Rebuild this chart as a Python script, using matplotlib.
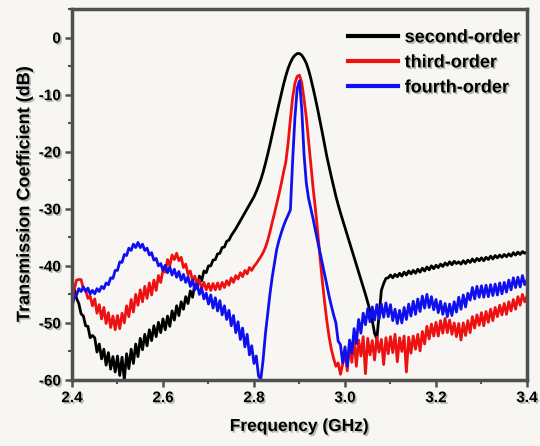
import numpy as np
import matplotlib
matplotlib.use("Agg")
import matplotlib.pyplot as plt
import matplotlib.patheffects as pe
from matplotlib.ticker import MultipleLocator

# Frequency sweep, 2.4 - 3.4 GHz in 5 MHz steps
freq = np.round(np.arange(2.4, 3.4001, 0.005), 3)

# Transmission coefficient (dB), one row per 50 MHz
second_order = [
    -43.0, -44.0, -45.7, -46.6, -48.4, -48.8, -50.5, -50.6, -52.6, -52.2,
    -52.6, -55.1, -53.7, -56.3, -54.6, -57.4, -55.2, -58.1, -55.9, -58.6,
    -55.8, -59.2, -56.0, -60.0, -55.4, -58.0, -54.6, -57.1, -53.7, -55.9,
    -52.7, -54.7, -52.0, -54.0, -51.2, -53.1, -50.5, -52.4, -49.9, -51.7,
    -49.3, -51.2, -48.8, -50.6, -47.9, -49.5, -47.0, -48.7, -46.3, -47.6,
    -45.4, -46.6, -44.4, -45.5, -43.2, -43.9, -41.8, -42.6, -40.9, -41.2,
    -40.0, -40.0, -39.0, -38.9, -37.9, -37.8, -36.8, -36.7, -35.7, -35.5,
    -34.7, -34.1, -33.5, -32.8, -32.1, -31.4, -30.7, -30.0, -29.3, -28.6,
    -27.9, -27.0, -26.0, -24.9, -23.6, -22.1, -20.5, -18.8, -17.0, -15.2,
    -13.4, -11.6, -9.9, -8.2, -6.7, -5.4, -4.4, -3.6, -3.1, -2.8,
    -2.8, -3.1, -3.7, -4.5, -5.7, -7.2, -8.9, -10.7, -12.6, -14.6,
    -16.6, -18.7, -20.8, -22.6, -24.4, -26.1, -27.8, -29.3, -30.7, -32.0,
    -33.3, -34.6, -35.9, -37.2, -38.5, -39.8, -41.1, -42.4, -43.7, -45.0,
    -46.4, -47.9, -49.6, -51.8, -52.8, -48.5, -44.3, -43.1, -42.2, -42.1,
    -41.6, -42.1, -41.5, -41.9, -41.3, -41.8, -41.1, -41.6, -40.9, -41.4,
    -40.8, -41.3, -40.6, -41.1, -40.4, -40.9, -40.2, -40.7, -40.0, -40.5,
    -39.9, -40.3, -39.7, -40.1, -39.5, -39.9, -39.3, -39.8, -39.2, -39.6,
    -39.3, -39.7, -39.1, -39.6, -39.0, -39.4, -38.8, -39.3, -38.7, -39.1,
    -38.6, -39.1, -38.5, -38.9, -38.3, -38.8, -38.2, -38.6, -38.1, -38.5,
    -38.0, -38.4, -37.9, -38.3, -37.7, -38.1, -37.6, -38.0, -37.5, -37.8,
    -37.6,
]

third_order = [
    -46.0, -44.1, -42.5, -42.4, -42.4, -44.0, -44.2, -45.7, -45.3, -47.0,
    -45.8, -48.3, -46.8, -49.3, -47.3, -50.1, -48.2, -50.8, -48.8, -51.2,
    -48.7, -51.0, -48.3, -50.0, -47.0, -48.9, -45.9, -48.1, -45.0, -46.9,
    -44.2, -46.3, -43.6, -45.7, -43.0, -45.1, -42.5, -44.3, -41.7, -42.9,
    -40.7, -41.1, -38.9, -40.0, -38.1, -38.9, -37.8, -39.1, -38.5, -40.3,
    -39.7, -41.5, -40.9, -42.6, -41.8, -43.4, -42.5, -43.9, -42.9, -44.2,
    -43.1, -44.3, -43.1, -44.2, -43.0, -44.1, -42.9, -43.8, -42.6, -43.4,
    -42.1, -42.9, -41.7, -42.3, -41.2, -41.9, -40.8, -41.4, -40.3, -40.8,
    -40.1, -39.6, -39.0, -38.4, -37.7, -36.8, -35.6, -34.1, -32.4, -30.8,
    -29.1, -27.4, -25.6, -23.6, -21.8, -18.5, -14.3, -10.5, -8.0, -6.8,
    -6.6, -7.9, -10.8, -14.0, -18.2, -22.6, -26.4, -30.0, -34.0, -38.4,
    -42.5, -46.2, -49.6, -52.4, -54.6, -56.2, -57.6, -57.0, -59.0, -57.2,
    -55.0, -58.4, -53.6, -56.9, -52.8, -57.6, -53.0, -55.8, -52.4, -58.9,
    -52.7, -55.6, -53.1, -56.5, -52.5, -55.1, -52.9, -57.3, -52.6, -55.4,
    -52.4, -55.2, -52.0, -56.8, -52.6, -55.0, -52.3, -58.6, -52.5, -55.3,
    -52.3, -54.6, -52.0, -54.9, -51.5, -53.7, -50.6, -52.8, -50.2, -52.3,
    -49.9, -52.3, -49.6, -51.8, -49.2, -51.7, -49.5, -52.0, -50.0, -52.4,
    -50.1, -53.0, -50.0, -52.2, -49.6, -51.7, -48.9, -50.9, -48.6, -50.4,
    -48.2, -50.5, -48.0, -49.9, -47.6, -49.6, -47.3, -48.9, -46.9, -48.6,
    -46.6, -48.5, -46.3, -47.9, -45.9, -47.6, -45.4, -46.9, -45.0, -46.3,
    -45.3,
]

fourth_order = [
    -47.2, -45.5, -45.1, -44.0, -44.5, -43.7, -44.5, -43.9, -44.9, -44.3,
    -44.9, -44.0, -44.5, -43.6, -44.0, -43.0, -43.3, -42.1, -42.2, -40.8,
    -40.8, -39.3, -39.4, -38.0, -38.2, -36.9, -37.3, -36.2, -36.8, -35.9,
    -36.8, -36.2, -37.3, -36.9, -38.1, -37.7, -39.0, -38.7, -40.0, -39.6,
    -40.8, -39.9, -41.2, -40.2, -41.6, -40.6, -42.0, -41.0, -42.5, -41.5,
    -42.9, -41.9, -43.6, -42.5, -44.2, -43.2, -45.0, -43.9, -45.8, -44.8,
    -46.7, -45.1, -47.4, -45.6, -47.9, -46.1, -48.6, -47.0, -49.4, -47.8,
    -50.5, -48.7, -51.7, -49.8, -52.9, -50.9, -54.2, -52.0, -55.6, -54.0,
    -57.1, -55.8, -59.3, -59.9, -56.5, -52.0, -48.5, -45.0, -42.0, -39.6,
    -37.1, -35.5, -34.2, -33.0, -32.0, -31.1, -30.2, -21.5, -14.0, -8.9,
    -7.6, -12.5, -20.5, -25.5, -28.2, -30.0, -31.8, -33.8, -35.7, -37.6,
    -39.5, -41.4, -43.3, -45.3, -47.0, -48.6, -50.0, -53.2, -53.8, -57.0,
    -54.2, -57.6, -53.0, -55.3, -51.0, -53.6, -49.4, -51.8, -48.3, -50.3,
    -47.5, -49.8, -47.2, -49.5, -46.8, -49.3, -46.7, -49.0, -46.5, -48.9,
    -46.8, -49.6, -47.6, -50.1, -47.8, -50.0, -47.3, -49.4, -46.7, -48.8,
    -46.2, -48.5, -45.8, -48.0, -45.3, -47.4, -45.0, -47.3, -45.4, -47.7,
    -45.9, -48.2, -46.2, -48.5, -46.6, -48.9, -46.7, -48.7, -46.3, -48.1,
    -45.5, -47.6, -45.1, -47.2, -44.8, -46.0, -43.8, -45.8, -43.6, -45.5,
    -43.5, -45.5, -43.4, -45.4, -43.3, -45.2, -43.2, -45.1, -43.0, -44.9,
    -42.9, -44.6, -42.5, -44.2, -42.1, -43.8, -42.0, -43.7, -41.7, -43.3,
    -42.5,
]

series_names = ["second-order", "third-order", "fourth-order"]
series_colors = ["#000000", "#ee1111", "#1010ee"]

bg = "#f7f6f2"
plt.rcParams["font.family"] = ["Liberation Sans", "DejaVu Sans"]
plt.rcParams["font.weight"] = "bold"

fig = plt.figure(figsize=(5.4, 4.46), dpi=100, facecolor=bg)
ax = fig.add_axes([0.1333, 0.148, 0.8426, 0.8318], facecolor=bg)

shadow = [pe.SimplePatchShadow(offset=(1.2, -1.2), shadow_rgbFace="#888888", alpha=0.6),
          pe.Normal()]

for vals, name, col in zip([second_order, third_order, fourth_order], series_names, series_colors):
    ax.plot(freq, vals, color=col, lw=2.0, label=name)

ax.set_xlim(2.4, 3.4)
ax.set_ylim(-60, 5)
ax.xaxis.set_major_locator(MultipleLocator(0.2))
ax.xaxis.set_minor_locator(MultipleLocator(0.1))
ax.yaxis.set_major_locator(MultipleLocator(10))
ax.yaxis.set_minor_locator(MultipleLocator(5))
ax.xaxis.set_major_formatter(plt.FuncFormatter(lambda v, p: f"{v:.1f}"))
ax.yaxis.set_major_formatter(plt.FuncFormatter(lambda v, p: f"{v:.0f}"))

for s in ax.spines.values():
    s.set_color("#505050")
    s.set_linewidth(2.5)

ax.tick_params(which="major", direction="out", length=5, width=1.8, color="#505050",
               labelsize=11, pad=3)
ax.tick_params(which="minor", direction="out", length=3, width=1.5, color="#505050")
for lab in ax.get_xticklabels() + ax.get_yticklabels():
    lab.set_fontweight("bold")
    lab.set_path_effects(shadow)

ax.set_xlabel("Frequency (GHz)", fontsize=12.5, fontweight="bold", labelpad=10,
              path_effects=shadow)
ax.set_ylabel("Transmission Coefficient (dB)", fontsize=13, fontweight="bold", labelpad=4,
              path_effects=shadow)

leg = ax.legend(loc="upper right", frameon=False, fontsize=13, handlelength=2.8,
                handletextpad=0.35, labelspacing=0.45, borderaxespad=0.0,
                bbox_to_anchor=(1.0, 0.965))
for line in leg.get_lines():
    line.set_linewidth(3)
for t in leg.get_texts():
    t.set_fontweight("bold")
    t.set_path_effects(shadow)

fig.savefig("out.png", dpi=100, facecolor=bg)
